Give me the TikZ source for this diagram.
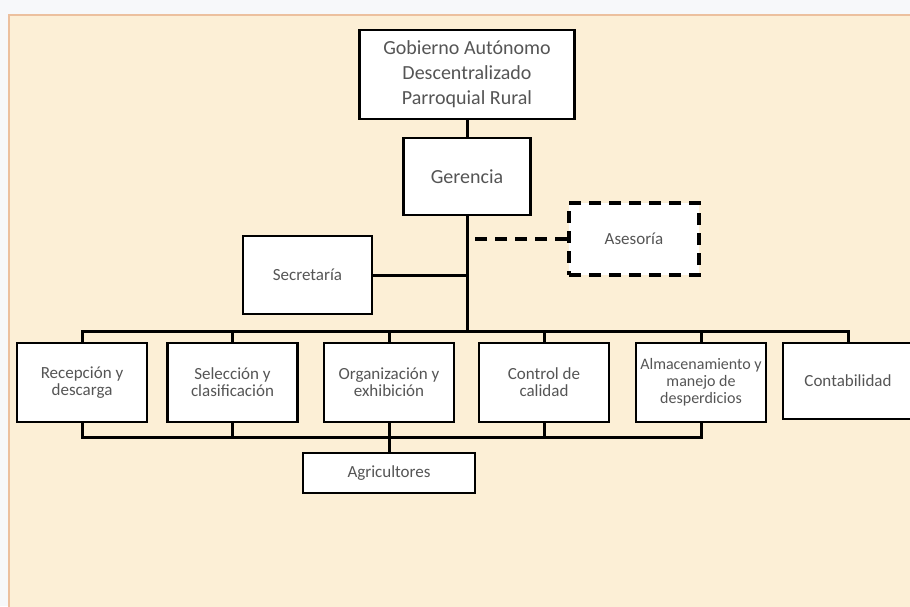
\documentclass[tikz,border=0pt]{standalone}
\usepackage{fontspec}
\setmainfont{Carlito}
\usetikzlibrary{positioning, calc}
\definecolor{paper}{RGB}{252,239,214}
\definecolor{frame}{RGB}{236,192,158}
\definecolor{page}{RGB}{247,248,250}
\definecolor{ink}{RGB}{85,85,85}

\begin{document}
\begin{tikzpicture}[x=1pt, y=-1pt,
  box/.style={draw, line width=2.8pt, fill=white, text=ink, align=center, inner sep=0pt},
  unit/.style={box, minimum width=130pt, minimum height=79pt, font=\fontsize{17}{17}\selectfont},
  wire/.style={draw=black, line width=3pt},
  dashwire/.style={draw=black, line width=3.6pt, dash pattern=on 12pt off 8pt}]
  \useasboundingbox (0,0) rectangle (910,606);
  \fill[page] (0,0) rectangle (910,606);
  \filldraw[fill=paper, draw=frame, line width=2pt] (9,15) rectangle (925,625);

  \node[box, minimum width=215pt, minimum height=89pt, font=\fontsize{20}{25}\selectfont] (gad) at (467,74.5) {Gobierno Autónomo\\Descentralizado\\Parroquial Rural};
  \node[box, minimum width=127pt, minimum height=77pt, font=\fontsize{20}{24}\selectfont] (ger) at (467,176.5) {Gerencia};
  \node[box, minimum width=129pt, minimum height=78pt, font=\fontsize{17}{20}\selectfont] (sec) at (307.5,275) {Secretaría};
  \node[box, dashwire, minimum width=130pt, minimum height=72pt, font=\fontsize{17}{20}\selectfont] (ases) at (634,239) {Asesoría};

  \node[unit] (rec) at (82,382.5) {Recepción y\\descarga};
  \node[unit] (sel) at (232.5,382.5) {Selección y\\clasificación};
  \node[unit] (org) at (389,382.5) {Organización y\\exhibición};
  \node[unit] (con) at (544,382.5) {Control de\\calidad};
  \node[unit, font=\fontsize{16}{17}\selectfont] (alm) at (701,382.5) {Almacenamiento y\\manejo de\\desperdicios};
  \node[unit, minimum height=76pt] (cont) at (848,381) {Contabilidad};
  \node[box, minimum width=172pt, minimum height=40pt, font=\fontsize{17}{20}\selectfont] (agr) at (389,473) {Agricultores};

  \coordinate (hub) at (467,331);
  \coordinate (foot) at (389,437);

  \draw[wire] (gad) -- (ger);
  \draw[wire] (ger) -- (hub);
  \draw[wire] (sec) -- (sec -| hub);
  \draw[dashwire] (ases) -- (ases -| hub);
  \draw[wire] (rec.north) |- (hub) -| (cont.north);
  \foreach \n in {sel, org, con, alm}
    \draw[wire] (\n.north) -- (\n.north |- hub);
  \draw[wire] (rec.south) |- (foot) -| (alm.south);
  \foreach \n in {sel, con}
    \draw[wire] (\n.south) -- (\n.south |- foot);
  \draw[wire] (org) -- (agr);
\end{tikzpicture}
\end{document}
